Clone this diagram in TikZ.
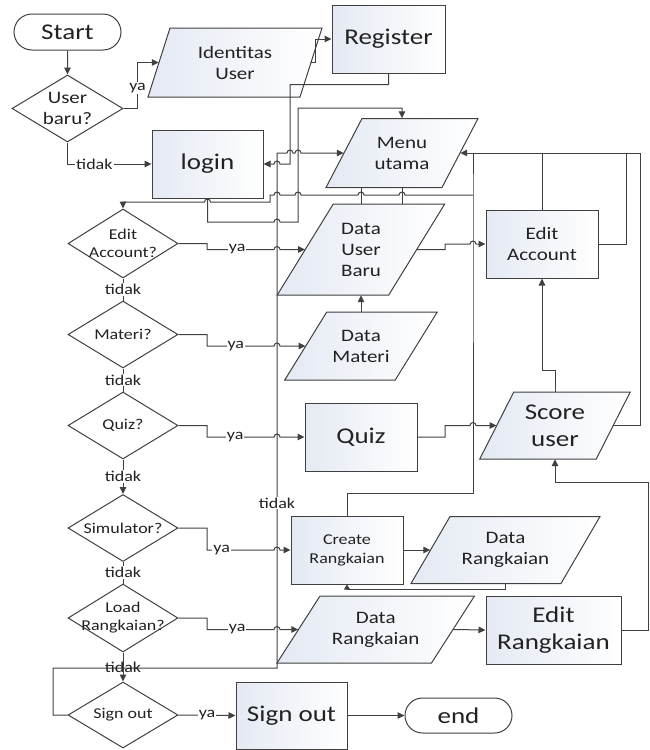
\documentclass[tikz,border=0pt]{standalone}
\usepackage{fontspec}
\setmainfont{Carlito}[FakeStretch=1.2]
\usetikzlibrary{shapes.geometric,shapes.misc,arrows.meta,calc}

\definecolor{linec}{RGB}{64,64,64}
\definecolor{txt}{RGB}{34,34,34}
\definecolor{tint}{RGB}{228,233,243}

\newcommand{\FtBig}{\fontsize{22.5}{27}\selectfont}
\newcommand{\FtMid}{\fontsize{17.5}{21}\selectfont}
\newcommand{\FtSml}{\fontsize{15}{18}\selectfont}

% horizontal line jumping over a vertical one (rightwards / leftwards)
\newcommand{\hopr}[1]{-- ([xshift=-3pt]#1) arc[start angle=180,end angle=0,radius=3pt]}
\newcommand{\hopl}[1]{-- ([xshift=3pt]#1) arc[start angle=0,end angle=180,radius=3pt]}

% input/output parallelogram: name, cx, cy, mid width, height, half slant, font, text
\newcommand{\iobox}[8]{%
  \shadedraw[boxline, left color=tint, right color=white]
    ({#2-#4/2+#6},{#3-#5/2}) -- ({#2+#4/2+#6},{#3-#5/2}) --
    ({#2+#4/2-#6},{#3+#5/2}) -- ({#2-#4/2-#6},{#3+#5/2}) -- cycle;
  \node[font=#7, minimum width=#4, minimum height=#5, inner sep=0pt,
        align=center, text=txt] (#1) at (#2,#3) {#8};}

% "ya" branch from a decision to the block on its right
\newcommand{\yaline}[4]{%
  \draw[arr] (#1.east) -| (207,#2) -- node[lbl,pos=#4]{ya}
    ([xshift=-3pt]277,#2) arc[start angle=180,end angle=0,radius=3pt] -- (#3.west);}

\tikzset{
  boxline/.style={draw=linec, line width=1pt},
  conn/.style={draw=linec, line width=1pt},
  arr/.style={conn, -{Triangle[length=7pt,width=6.5pt]}},
  proc/.style={rectangle, boxline, left color=tint, right color=white,
               inner sep=2pt, align=center, text=txt},
  term/.style={rounded rectangle, boxline, fill=white, text=txt,
               minimum width=111, minimum height=36, inner sep=2pt, font=\FtBig},
  dec/.style={diamond, boxline, fill=white, inner sep=0pt, minimum width=110},
  dtext/.style={text=txt, align=center, font=\FtSml, inner sep=0pt},
  lbl/.style={fill=white, inner sep=1pt, text=txt, font=\FtSml},
}

\begin{document}
\begin{tikzpicture}[x=1pt,y=-1pt]
\useasboundingbox (0,0) rectangle (650,750);

% ---------- terminals ----------
\node[term] (start) at (67.5,32) {Start};
\node[term, minimum height=35] (stop) at (458.5,715.5) {end};

% ---------- processes ----------
\node[proc, minimum width=113, minimum height=68, font=\FtBig] (reg) at (388.5,39) {Register};
\node[proc, minimum width=111, minimum height=68, font=\FtBig] (login) at (207.5,164) {login};
\node[proc, minimum width=112, minimum height=68, font=\FtMid] (ea) at (542,244) {Edit\\Account};
\node[proc, minimum width=112, minimum height=68, font=\FtBig] (quiz) at (361,437) {Quiz};
\node[proc, minimum width=112, minimum height=68, font=\fontsize{15}{19}\selectfont] (cr) at (347,550) {Create\\Rangkaian};
\node[proc, minimum width=135, minimum height=68, font=\FtBig] (er) at (553.5,630) {Edit\\Rangkaian};
\node[proc, minimum width=111, minimum height=67, font=\FtBig] (so) at (291.5,715.5) {Sign out};

% ---------- data ----------
\iobox{idu}{235}{62.5}{152}{69}{11}{\FtMid}{Identitas\\User}
\iobox{menu}{402}{153}{116}{69}{18}{\FtMid}{Menu\\utama}
\iobox{dub}{361}{249.5}{111.5}{91}{28}{\FtMid}{Data\\User\\Baru}
\iobox{dm}{361}{346}{110.5}{68}{21}{\FtMid}{Data\\Materi}
\iobox{score}{555}{425.5}{116.5}{67}{17}{\FtBig}{Score\\user}
\iobox{drr}{505.5}{550}{150}{67}{19.5}{\FtMid}{Data\\Rangkaian}
\iobox{drl}{375.75}{629.5}{154.5}{67}{21.5}{\FtMid}{Data\\Rangkaian}

% ---------- decisions ----------
\node[dec, minimum width=111, minimum height=67,
      label={[dtext,font=\FtMid]center:{User\\baru?}}] (ub) at (67.5,108.5) {};
\node[dec, minimum height=69, label={[dtext]center:{Edit\\Account?}}] (q1) at (123,243.5) {};
\node[dec, minimum height=67, label={[dtext]center:{Materi?}}] (q2) at (123,334.5) {};
\node[dec, minimum height=67, label={[dtext]center:{Quiz?}}] (q3) at (123,425.5) {};
\node[dec, minimum height=67, label={[dtext]center:{Simulator?}}] (q4) at (123,528) {};
\node[dec, minimum height=68, label={[dtext]center:{Load\\Rangkaian?}}] (q5) at (123,618) {};
\node[dec, minimum height=66, label={[dtext]center:{Sign out}}] (q6) at (123,715) {};

% junction point on the return line
\coordinate (jmenu) at (473,195);

% ---------- connectors ----------
\draw[arr] (start) -- (ub);
\draw[arr] (ub.east) -- ++(14,0) |- node[lbl,pos=0.22]{ya} (idu.west);
\draw[arr] (idu.east) -- ++(4,0) |- (reg.west);
\draw[arr] (reg.south) -- ++(0,11) -| (290,164) \hopl{277,164} -- (login.east);
\draw[arr] (ub.south) |- node[lbl,pos=0.66]{tidak} (login.west);
\draw[arr] (login.south) -- (207.5,222) \hopr{277,222} -- (298,222) -- (298,108) -| (menu.north);

% sign out "tidak" back to the main menu
\draw[arr] (q6.west) -- (53,715) -- (53,668) -- (277,668)
  -- node[lbl,pos=0.32]{tidak} (277,153) \hopr{290,153} \hopr{298,153} -- (menu.west);

% main menu down to the first question
\draw[arr] (jmenu) \hopl{402,195} \hopl{361,195} \hopl{298,195} \hopl{277,195}
  -- (270,195) -- (270,202) \hopl{207.5,202} -- (123,202) -- (q1.north);
\draw[conn] (menu.south -| dub.north) -- (dub.north);
\draw[conn] (menu.south) -- (menu.south |- dub.north);

% question chain
\draw[conn] (q1.south) -- node[lbl]{tidak} (q2.north);
\draw[conn] (q2.south) -- node[lbl]{tidak} (q3.north);
\draw[arr]  (q3.south) -- node[lbl]{tidak} (q4.north);
\draw[conn] (q4.south) -- node[lbl]{tidak} (q5.north);
\draw[arr]  (q5.south) -- node[lbl, fill=none]{tidak} (q6.north);

\yaline{q1}{249.5}{dub}{0.45}
\yaline{q2}{346}{dm}{0.43}
\yaline{q3}{437}{quiz}{0.42}
\yaline{q4}{550}{cr}{0.22}
\yaline{q5}{629.5}{drl}{0.45}
\draw[arr] (q6.east) -- node[lbl]{ya} (so.west);
\draw[arr] (so.east) -- (stop.west);

% right-hand blocks
\draw[arr] (dm.north) -- (dub.south);
\draw[arr] (dub.east) -- (445,249.5) -- (445,244) \hopr{473,244} -- (ea.west);
\draw[arr] (score.east) -| (640,153) -- (menu.east);
\draw[conn] (ea.north) -- (ea.north |- menu.east);
\draw[conn] (ea.east) -| (626,153);
\draw[conn] (cr.north) |- (473,493) -- (jmenu) -- (473,153);
\draw[arr] (quiz.east) -- (445,437) -- (445,425.5) \hopr{473,425.5} -- (score.west);
\draw[arr] (score.north) -- (555,370) -- (542,370) -- (ea.south);
\draw[arr] (er.east) -| (648,482) -| (score.south);
\draw[arr] (cr.east) -- (drr.west);
\draw[conn, -{Triangle[length=5pt,width=6pt]}] (drr.south) -- ++(0,6) -| (cr.south);
\draw[arr] (drl.east) -- (er.west);
\end{tikzpicture}
\end{document}
